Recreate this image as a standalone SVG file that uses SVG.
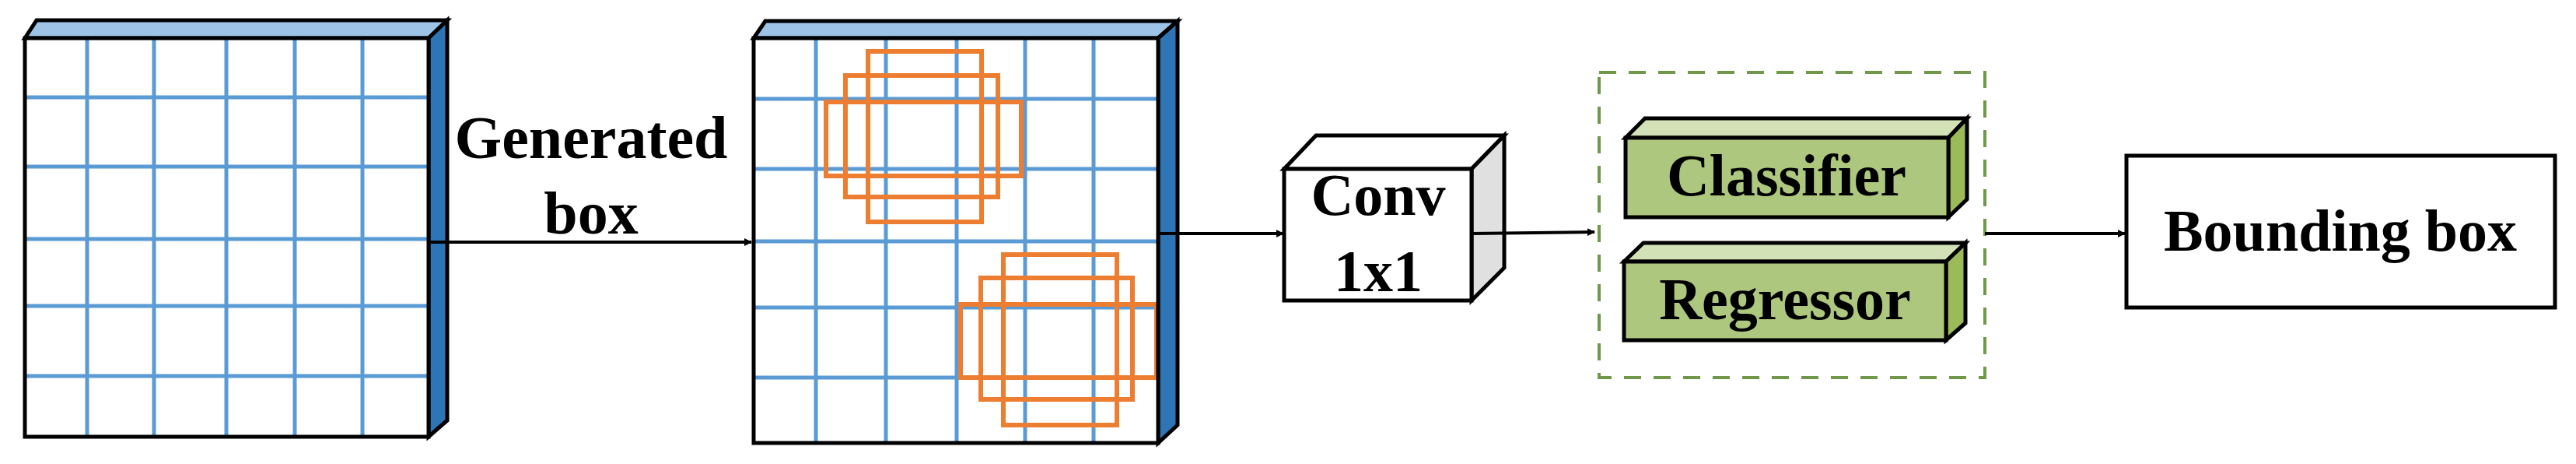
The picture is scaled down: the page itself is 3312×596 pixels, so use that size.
<svg xmlns="http://www.w3.org/2000/svg" width="3312" height="596" viewBox="0 0 3312 596">
<defs>
<style>
.t{font-family:"Liberation Serif","Times New Roman",serif;font-weight:bold;fill:#000;text-anchor:middle}
.edge{stroke:#000;stroke-width:4;fill:none}
.grid{stroke:#5b9bd5;stroke-width:5}
.ob{fill:none;stroke:#ed7d31;stroke-width:6}
.fr{stroke:#000;stroke-width:5}
</style>
<marker id="ah" markerWidth="10" markerHeight="10" refX="9" refY="5" orient="auto" markerUnits="userSpaceOnUse" viewBox="0 0 10 10">
<path d="M0,0 L10,5 L0,10 z" fill="#000"/>
</marker>
</defs>
<rect width="3312" height="596" fill="#fff"/>

<g id="fmap1">
<polygon points="32,49 47,26 575,26 551,49" fill="#9dc3e6" class="fr"/>
<polygon points="551,49 575,26 575,540 551,561" fill="#2e75b6" class="fr"/>
<rect x="32" y="49" width="519" height="512" fill="#fff"/>
<g class="grid">
<line x1="112" y1="49" x2="112" y2="561"/><line x1="198" y1="49" x2="198" y2="561"/><line x1="291" y1="49" x2="291" y2="561"/><line x1="379" y1="49" x2="379" y2="561"/><line x1="466" y1="49" x2="466" y2="561"/>
<line x1="32" y1="125" x2="551" y2="125"/><line x1="32" y1="214" x2="551" y2="214"/><line x1="32" y1="307" x2="551" y2="307"/><line x1="32" y1="393" x2="551" y2="393"/><line x1="32" y1="483" x2="551" y2="483"/>
</g>
<rect x="32" y="49" width="519" height="512" fill="none" class="fr"/>
</g>

<g id="fmap2">
<polygon points="969,49 984,27 1514,27 1489,49" fill="#9dc3e6" class="fr"/>
<polygon points="1489,49 1514,27 1514,546 1489,569" fill="#2e75b6" class="fr"/>
<rect x="969" y="49" width="520" height="520" fill="#fff"/>
<g class="grid">
<line x1="1049" y1="49" x2="1049" y2="569"/><line x1="1139" y1="49" x2="1139" y2="569"/><line x1="1230" y1="49" x2="1230" y2="569"/><line x1="1318" y1="49" x2="1318" y2="569"/><line x1="1406" y1="49" x2="1406" y2="569"/>
<line x1="969" y1="127" x2="1489" y2="127"/><line x1="969" y1="217" x2="1489" y2="217"/><line x1="969" y1="310" x2="1489" y2="310"/><line x1="969" y1="395" x2="1489" y2="395"/><line x1="969" y1="485" x2="1489" y2="485"/>
</g>
<rect x="1116" y="66" width="146" height="219" class="ob"/>
<rect x="1087" y="97" width="196" height="156" class="ob"/>
<rect x="1062" y="131" width="251" height="95" class="ob"/>
<rect x="1290" y="327" width="146" height="219" class="ob"/>
<rect x="1261" y="357" width="195" height="156" class="ob"/>
<rect x="1235" y="391" width="252" height="94" class="ob"/>
<rect x="969" y="49" width="520" height="520" fill="none" class="fr"/>
</g>

<g id="conv">
<polygon points="1651,217 1692,174 1934,174 1892,217" fill="#fff" class="fr"/>
<polygon points="1892,217 1934,174 1934,344 1892,386" fill="#e0e0e0" class="fr"/>
<rect x="1651" y="217" width="241" height="169" fill="#fff" class="fr"/>
<text class="t" x="1772" y="276" font-size="76">Conv</text>
<text class="t" x="1772" y="374" font-size="76">1x1</text>
</g>

<g id="heads">
<rect x="2056" y="93" width="496" height="392" fill="none" stroke="#70974a" stroke-width="4" stroke-dasharray="22,16"/>
<g id="classifier">
<polygon points="2090,177 2115,152 2529,152 2505,177" fill="#d3e2b6" class="fr"/>
<polygon points="2505,177 2529,152 2529,256 2505,279" fill="#9bbb59" class="fr"/>
<rect x="2090" y="177" width="415" height="102" fill="#adc77e" class="fr"/>
<text class="t" x="2297" y="251" font-size="76">Classifier</text>
</g>
<g id="regressor">
<polygon points="2088,336 2113,312 2527,312 2502,336" fill="#d3e2b6" class="fr"/>
<polygon points="2502,336 2527,312 2527,415 2502,437" fill="#9bbb59" class="fr"/>
<rect x="2088" y="336" width="414" height="101" fill="#adc77e" class="fr"/>
<text class="t" x="2295" y="410" font-size="76">Regressor</text>
</g>
</g>

<g id="bbox">
<rect x="2734" y="200" width="551" height="195" fill="#fff" class="fr"/>
<text class="t" x="3009" y="322" font-size="76">Bounding box</text>
</g>

<g id="labels">
<text class="t" x="760" y="203" font-size="78">Generated</text>
<text class="t" x="760" y="300" font-size="78">box</text>
</g>

<g id="connectors">
<line x1="551" y1="311" x2="966" y2="311" class="edge" marker-end="url(#ah)"/>
<line x1="1489" y1="300" x2="1650" y2="300" class="edge" marker-end="url(#ah)"/>
<line x1="1892" y1="300" x2="2050" y2="298" class="edge" marker-end="url(#ah)"/>
<line x1="2552" y1="300" x2="2732" y2="300" class="edge" marker-end="url(#ah)"/>
</g>
</svg>
